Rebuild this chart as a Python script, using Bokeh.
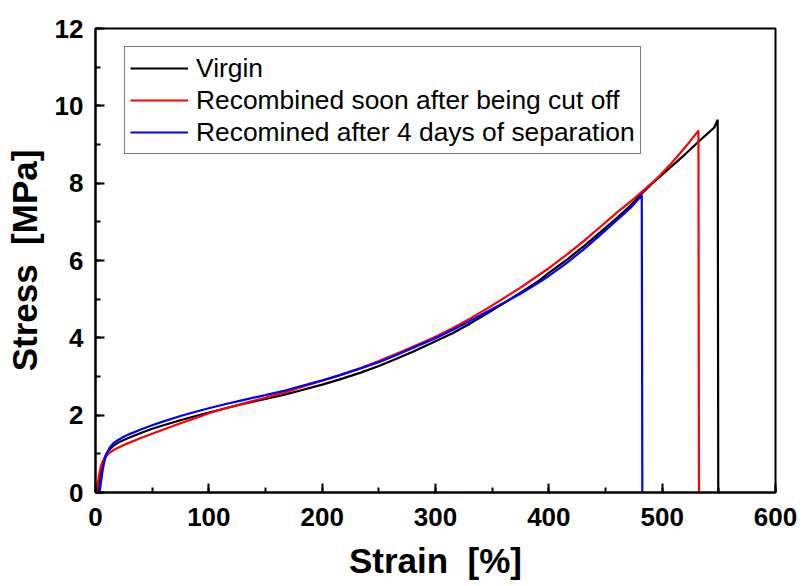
from bokeh.plotting import figure
from bokeh.models import SingleIntervalTicker, Legend, LegendItem, Range1d
from bokeh.embed import file_html
from bokeh.resources import INLINE

# Tensile stress-strain curves (strain in %, stress in MPa)
virgin_strain = [0, 2, 3, 4, 5, 6, 8, 10, 13, 16, 20, 25, 30, 40, 50, 60, 75, 90,
                 100, 115, 130, 150, 165, 180, 200, 215, 234, 250, 265, 280, 300,
                 315, 330, 345, 360, 375, 390, 400, 415, 430, 445, 460, 472, 481,
                 490, 500, 510, 520, 532, 540, 546, 548, 549, 549.5]
virgin_stress = [0, 0.05, 0.20, 0.40, 0.58, 0.72, 0.90, 1.02, 1.13, 1.21, 1.29,
                 1.36, 1.42, 1.54, 1.65, 1.74, 1.87, 1.99, 2.07, 2.18, 2.29, 2.42,
                 2.52, 2.63, 2.79, 2.92, 3.10, 3.27, 3.45, 3.64, 3.91, 4.12, 4.36,
                 4.62, 4.89, 5.17, 5.45, 5.68, 6.00, 6.35, 6.72, 7.10, 7.42, 7.70,
                 7.96, 8.22, 8.48, 8.74, 9.07, 9.28, 9.44, 9.58, 9.64, 0]

soon_strain = [0, 1, 2, 3, 4, 5, 6, 8, 10, 13, 16, 20, 25, 30, 40, 50, 60, 75,
               90, 100, 115, 130, 150, 165, 180, 200, 215, 234, 250, 265, 280,
               300, 315, 330, 345, 360, 375, 390, 400, 415, 430, 445, 460, 472,
               481, 490, 498, 507, 516, 524, 532, 532.5]
soon_stress = [0, 0.05, 0.22, 0.42, 0.58, 0.70, 0.78, 0.88, 0.96, 1.04, 1.10,
               1.16, 1.23, 1.29, 1.41, 1.52, 1.63, 1.79, 1.94, 2.05, 2.18, 2.30,
               2.45, 2.57, 2.71, 2.89, 3.03, 3.22, 3.40, 3.58, 3.77, 4.03, 4.25,
               4.49, 4.75, 5.02, 5.30, 5.60, 5.80, 6.13, 6.48, 6.86, 7.24, 7.52,
               7.75, 7.98, 8.20, 8.48, 8.78, 9.06, 9.36, 0]

days4_strain = [0, 2, 3, 4, 5, 6, 7, 8, 10, 13, 16, 20, 25, 30, 40, 50, 60, 75,
                90, 100, 115, 130, 150, 165, 180, 200, 215, 234, 250, 265, 280,
                300, 315, 330, 345, 360, 375, 390, 400, 415, 430, 445, 460, 472,
                482, 482.5]
days4_stress = [0, 0.0, 0.02, 0.08, 0.30, 0.52, 0.68, 0.82, 1.02, 1.18, 1.28,
                1.36, 1.44, 1.51, 1.63, 1.74, 1.84, 1.98, 2.10, 2.18, 2.29, 2.39,
                2.52, 2.62, 2.74, 2.90, 3.03, 3.21, 3.37, 3.55, 3.74, 3.99, 4.20,
                4.43, 4.67, 4.90, 5.14, 5.41, 5.60, 5.92, 6.27, 6.65, 7.04, 7.36,
                7.69, 0]

labels = ["Virgin",
          "Recombined soon after being cut off",
          "Recomined after 4 days of separation"]

FONT = "Liberation Sans"

p = figure(width=802, height=586, output_backend="svg", toolbar_location=None,
           x_range=Range1d(0, 600), y_range=Range1d(0, 12))
p.min_border_left = 95
p.min_border_right = 27
p.min_border_top = 28
p.min_border_bottom = 94

p.xgrid.visible = False
p.ygrid.visible = False
p.outline_line_color = "black"
p.outline_line_width = 2
p.outline_line_alpha = 1.0
p.background_fill_color = "white"
p.border_fill_color = "white"

p.xaxis.ticker = SingleIntervalTicker(interval=100, num_minor_ticks=2)
p.yaxis.ticker = SingleIntervalTicker(interval=2, num_minor_ticks=2)

for ax in (p.xaxis[0], p.yaxis[0]):
    ax.axis_line_width = 2
    ax.axis_line_color = "black"
    ax.major_tick_in = 9
    ax.major_tick_out = 0
    ax.minor_tick_in = 5
    ax.minor_tick_out = 0
    ax.major_tick_line_width = 2
    ax.minor_tick_line_width = 2
    ax.major_tick_line_color = "black"
    ax.minor_tick_line_color = "black"
    ax.major_label_text_font = FONT
    ax.major_label_text_font_style = "bold"
    ax.major_label_text_font_size = "26px"
    ax.major_label_text_color = "black"
    ax.axis_label_text_font = FONT
    ax.axis_label_text_font_style = "bold"
    ax.axis_label_text_font_size = "35px"
    ax.axis_label_text_color = "black"

# non-breaking space keeps the double gap in the SVG text
p.xaxis.axis_label = "Strain\u00a0 [%]"
p.yaxis.axis_label = "Stress\u00a0 [MPa]"
p.xaxis.major_label_standoff = 15
p.yaxis.major_label_standoff = 12
p.xaxis.axis_label_standoff = 12
p.yaxis.axis_label_standoff = 8

r1 = p.line(virgin_strain, virgin_stress, line_color="black", line_width=2.2)
r2 = p.line(soon_strain, soon_stress, line_color="#ff0000", line_width=2.2)
r3 = p.line(days4_strain, days4_stress, line_color="#0000ff", line_width=2.2)

legend = Legend(items=[LegendItem(label=labels[0], renderers=[r1]),
                       LegendItem(label=labels[1], renderers=[r2]),
                       LegendItem(label=labels[2], renderers=[r3])],
                location=(29, 338))
legend.label_text_font = FONT
legend.label_text_font_size = "26.4px"
legend.label_text_color = "black"
legend.glyph_width = 58
legend.glyph_height = 32
legend.label_height = 32
legend.label_standoff = 8
legend.spacing = 0
legend.padding = 5
legend.margin = 0
legend.border_line_color = "black"
legend.border_line_width = 1
legend.background_fill_alpha = 1.0
p.add_layout(legend)

open("out.html", "w").write(file_html(p, INLINE))
